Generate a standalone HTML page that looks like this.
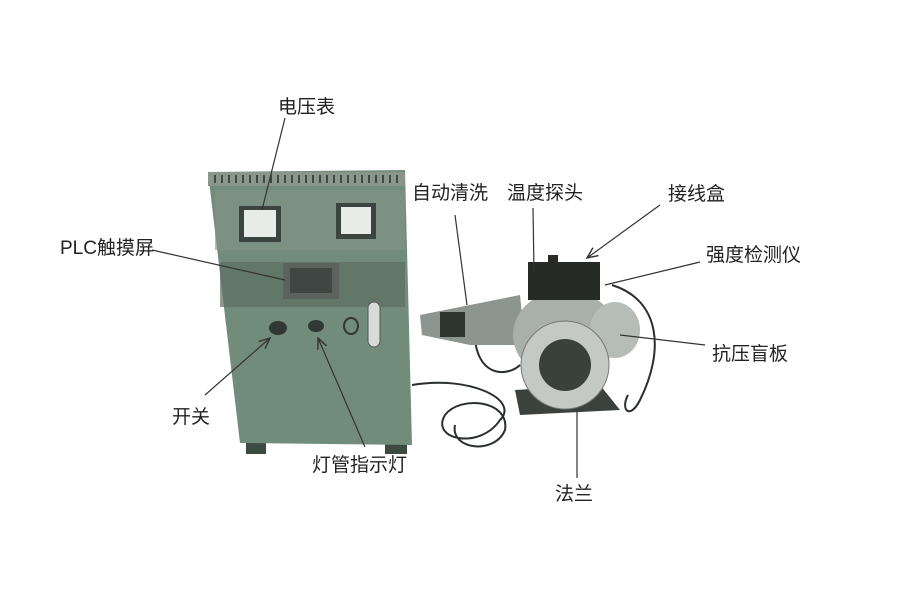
<!DOCTYPE html>
<html><head><meta charset="utf-8"><style>
body{margin:0;background:#fff;width:900px;height:600px;overflow:hidden}
text{font-family:"Liberation Sans","Noto Sans CJK SC",sans-serif;font-size:19px;fill:#222}
</style></head><body>
<svg width="900" height="600" viewBox="0 0 900 600">
<defs><marker id="a" markerWidth="10" markerHeight="10" refX="9" refY="5" orient="auto"><path d="M0,1 L9,5 L0,9" fill="none" stroke="#333" stroke-width="1.2"/></marker></defs>
<rect x="246" y="438" width="20" height="16" fill="#3c4a42"/>
<rect x="385" y="438" width="22" height="16" fill="#3c4a42"/>
<path d="M208,172 L405,170 L412,445 L240,443 Z" fill="#728c7b"/>
<rect x="208" y="172" width="197" height="14" fill="#8a968c"/>
<g stroke="#3f4a44" stroke-width="2">
<path d="M215,175v8M222,175v8M229,175v8M236,175v8M243,175v8M250,175v8M257,175v8M264,175v8M271,175v8M278,175v8M285,175v8M292,175v8M299,175v8M306,175v8M313,175v8M320,175v8M327,175v8M334,175v8M341,175v8M348,175v8M355,175v8M362,175v8M369,175v8M376,175v8M383,175v8M390,175v8M397,175v8"/></g>
<rect x="215" y="190" width="190" height="60" fill="#84948a" opacity=".6"/>
<rect x="220" y="262" width="185" height="45" fill="#5d6e62" opacity=".7"/>
<rect x="239" y="206" width="42" height="36" fill="#3b4440"/><rect x="244" y="210" width="32" height="27" fill="#e8ece8"/>
<rect x="336" y="203" width="40" height="36" fill="#3b4440"/><rect x="341" y="207" width="30" height="27" fill="#e8ece8"/>
<rect x="283" y="263" width="56" height="36" fill="#5a635e"/><rect x="290" y="268" width="42" height="25" fill="#3f4744"/>
<ellipse cx="278" cy="328" rx="9" ry="7" fill="#2f3833"/>
<ellipse cx="316" cy="326" rx="8" ry="6" fill="#2f3833"/>
<ellipse cx="351" cy="326" rx="7" ry="8" fill="none" stroke="#2f3833" stroke-width="2"/>
<rect x="368" y="302" width="12" height="45" rx="6" fill="#d8dcd8" stroke="#555"/>
<g fill="none" stroke="#2a2f2c" stroke-width="2">
<path d="M412,385 C470,375 520,400 500,420 C480,450 430,440 445,415 C460,395 510,400 505,430 C495,455 450,450 455,425"/>
<path d="M612,285 C660,300 665,350 640,400 C630,420 620,410 628,395"/>
<path d="M475,340 C480,380 510,375 520,365"/>
</g>
<path d="M420,315 L470,305 L520,295 L525,345 L470,345 L422,335 Z" fill="#8d9590"/>
<rect x="440" y="312" width="25" height="25" fill="#2e3430"/>
<path d="M515,390 L600,385 L620,410 L520,415 Z" fill="#3b423e"/>
<ellipse cx="565" cy="335" rx="52" ry="45" fill="#a9b0ac"/>
<ellipse cx="615" cy="330" rx="25" ry="28" fill="#b6bcb8"/>
<circle cx="565" cy="365" r="44" fill="#c4c9c6" stroke="#777"/>
<circle cx="565" cy="365" r="26" fill="#3a403c"/>
<rect x="528" y="262" width="72" height="38" fill="#262b28"/>
<rect x="548" y="255" width="10" height="10" fill="#262b28"/>
<g stroke="#333" stroke-width="1.2" fill="none">
<line x1="285" y1="118" x2="262" y2="210"/>
<line x1="152" y1="250" x2="285" y2="280"/>
<line x1="205" y1="395" x2="270" y2="338" marker-end="url(#a)"/>
<line x1="365" y1="447" x2="318" y2="338" marker-end="url(#a)"/>
<line x1="455" y1="215" x2="467" y2="305"/>
<line x1="533" y1="208" x2="534" y2="272"/>
<line x1="660" y1="205" x2="587" y2="258" marker-end="url(#a)"/>
<line x1="700" y1="262" x2="605" y2="285"/>
<line x1="705" y1="345" x2="620" y2="335"/>
<line x1="577" y1="478" x2="577" y2="410"/>
</g>
<text x="278" y="113">电压表</text>
<text x="60" y="254">PLC触摸屏</text>
<text x="412" y="199">自动清洗</text>
<text x="507" y="199">温度探头</text>
<text x="668" y="200">接线盒</text>
<text x="706" y="261">强度检测仪</text>
<text x="712" y="360">抗压盲板</text>
<text x="172" y="423">开关</text>
<text x="312" y="471">灯管指示灯</text>
<text x="555" y="500">法兰</text>
</svg>
</body></html>
